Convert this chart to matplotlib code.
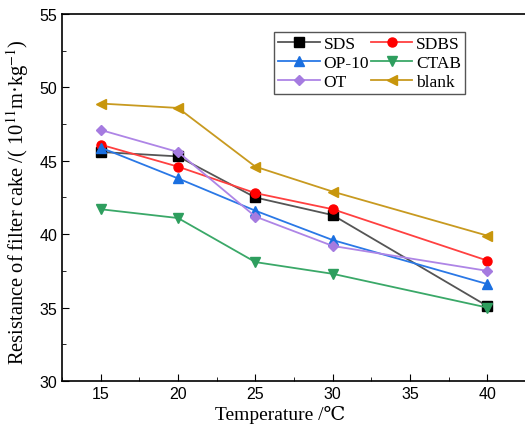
import matplotlib
matplotlib.use("Agg")
import matplotlib.pyplot as plt
from matplotlib.ticker import MultipleLocator

# data
temp = [15, 20, 25, 30, 40]
sds = [45.6, 45.3, 42.5, 41.3, 35.1]
sdbs = [46.1, 44.6, 42.8, 41.7, 38.2]
op10 = [45.9, 43.8, 41.6, 39.6, 36.6]
ctab = [41.7, 41.1, 38.1, 37.3, 35.0]
ot = [47.1, 45.6, 41.2, 39.2, 37.5]
blank = [48.9, 48.6, 44.6, 42.9, 39.9]

plt.rcParams['font.family'] = ['Liberation Serif', 'DejaVu Serif']
plt.rcParams['mathtext.fontset'] = 'stix'

fig = plt.figure(figsize=(5.25, 4.31), dpi=100)
ax = fig.add_axes([0.1181, 0.1137, 0.884, 0.8515])

series = [
    (sds, 'SDS', 's', '#000000', '#555555'),
    (sdbs, 'SDBS', 'o', '#ff0000', '#ff4040'),
    (op10, 'OP-10', '^', '#1a6fe0', '#2a78e6'),
    (ctab, 'CTAB', 'v', '#2e9e5e', '#3aa868'),
    (ot, 'OT', 'D', '#a57be0', '#ae85e6'),
    (blank, 'blank', '<', '#c8960c', '#c89a20'),
]
lines = {}
for vals, lab, m, mc, lc in series:
    ln, = ax.plot(temp, vals, color=lc, lw=1.3, marker=m, ms=6.5 if m != 'D' else 5.5,
                  markerfacecolor=mc, markeredgecolor=mc, label=lab)
    lines[lab] = ln

ax.set_xlim(12.5, 42.5)
ax.set_ylim(30, 55)
ax.xaxis.set_major_locator(MultipleLocator(5))
ax.xaxis.set_minor_locator(MultipleLocator(2.5))
ax.yaxis.set_major_locator(MultipleLocator(5))
ax.yaxis.set_minor_locator(MultipleLocator(2.5))
ax.tick_params(which='both', direction='in', top=False, right=False)
ax.tick_params(which='major', length=5, labelsize=11.5)
ax.tick_params(which='minor', length=3)
for lbl in ax.get_xticklabels() + ax.get_yticklabels():
    lbl.set_family(['Liberation Sans', 'DejaVu Sans'])
ax.spines['right'].set_visible(False)
for s in ax.spines.values():
    s.set_linewidth(1.2)

ax.set_xlabel('Temperature /℃', fontsize=14)
ax.xaxis.set_label_coords(0.47, -0.065)
ax.set_ylabel('Resistance of filter cake /( 10$^{11}$m·kg$^{-1}$)', fontsize=14.8)
ax.yaxis.set_label_coords(-0.066, 0.49)

# row-major legend order like the original
order = ['SDS', 'OP-10', 'OT', 'SDBS', 'CTAB', 'blank']
leg = ax.legend([lines[k] for k in order], order, ncol=2, loc='upper left',
                bbox_to_anchor=(0.457, 0.951), borderaxespad=0, fontsize=12.5,
                handlelength=2.4, columnspacing=0.1, handletextpad=0.2,
                labelspacing=0.15, borderpad=0.25, fancybox=False, framealpha=1,
                edgecolor='#555555')
leg.get_frame().set_linewidth(1.0)

fig.savefig('out.png', dpi=100)
